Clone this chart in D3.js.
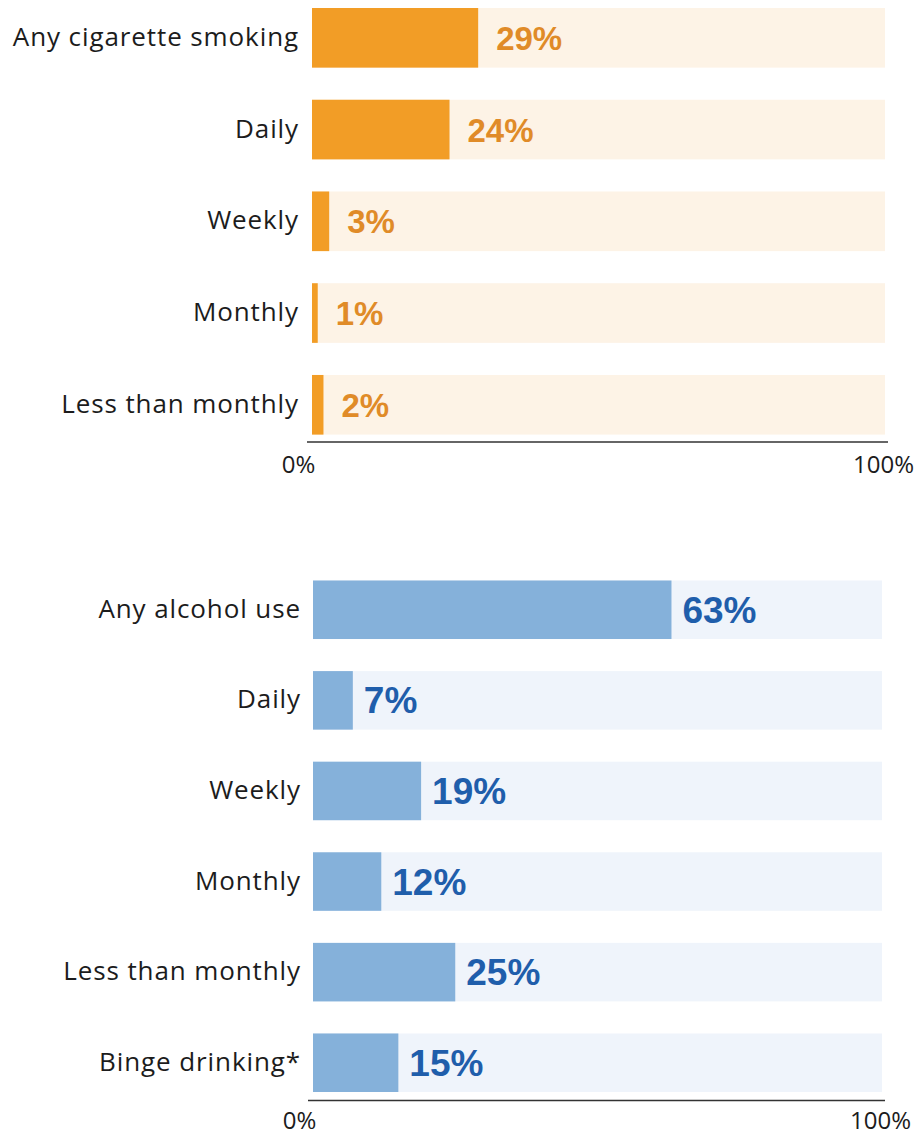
<!DOCTYPE html>
<html>
<head>
<meta charset="utf-8">
<script src="https://cdn.jsdelivr.net/npm/d3@7"></script>
<style>
  html, body { margin: 0; padding: 0; background: #ffffff; }
  svg { display: block; }
  .cat { font-family: "Open Sans", Lato, sans-serif; fill: #1c1c1c; letter-spacing: 0.9px; }
  .val { font-family: "Liberation Sans", Arial, sans-serif; font-weight: bold; }
  .tick text { font-family: "Open Sans", Lato, sans-serif; fill: #1c1c1c; }
</style>
</head>
<body>
<svg id="chart" width="921" height="1135"></svg>
<script>
// Smoking frequency
const smokingCategories = ["Any cigarette smoking", "Daily", "Weekly", "Monthly", "Less than monthly"];
const smokingValues = [29, 24, 3, 1, 2];

// Alcohol use frequency
const alcoholCategories = ["Any alcohol use", "Daily", "Weekly", "Monthly", "Less than monthly", "Binge drinking*"];
const alcoholValues = [63, 7, 19, 12, 25, 15];

// Axis tick labels
const tickValues = [0, 100];
const tickLabels = ["0%", "100%"];

const svg = d3.select("#chart");

function panel(opts) {
  const g = svg.append("g");
  const x = d3.scaleLinear().domain([0, 100]).range([opts.x0, opts.x1]);
  const y = d3.scaleBand()
    .domain(opts.categories)
    .range([opts.y0, opts.y1])
    .paddingInner(opts.pad)
    .paddingOuter(0);

  const rows = opts.categories.map((c, i) => ({ cat: c, value: opts.values[i] }));

  // track (full 100% background)
  g.selectAll("rect.track").data(rows).join("rect")
    .attr("class", "track")
    .attr("x", x(0))
    .attr("y", d => y(d.cat))
    .attr("width", x(100) - x(0))
    .attr("height", y.bandwidth())
    .attr("fill", opts.trackColor);

  // value bars
  g.selectAll("rect.bar").data(rows).join("rect")
    .attr("class", "bar")
    .attr("x", x(0))
    .attr("y", d => y(d.cat))
    .attr("width", d => x(d.value) - x(0))
    .attr("height", y.bandwidth())
    .attr("fill", opts.barColor);

  // value labels
  g.selectAll("text.val").data(rows).join("text")
    .attr("class", "val")
    .attr("x", d => x(d.value) + opts.valOffset)
    .attr("y", d => y(d.cat) + y.bandwidth() / 2 + opts.valDy)
    .attr("font-size", opts.valSize)
    .attr("fill", opts.valColor)
    .text(d => d.value + "%");

  // category labels
  g.selectAll("text.cat").data(rows).join("text")
    .attr("class", "cat")
    .attr("x", opts.labelX)
    .attr("y", d => y(d.cat) + y.bandwidth() / 2 + opts.catDy)
    .attr("text-anchor", "end")
    .attr("font-size", opts.catSize)
    .text(d => d.cat);

  // baseline axis
  const axis = d3.axisBottom(x)
    .tickValues(tickValues)
    .tickSize(0)
    .tickPadding(0)
    .tickFormat((d, i) => tickLabels[i]);

  const ax = g.append("g")
    .attr("transform", `translate(0,${opts.axisY})`)
    .call(axis);
  ax.select(".domain").remove();
  ax.append("line")
    .attr("x1", opts.lineX0).attr("x2", opts.lineX1)
    .attr("y1", 0).attr("y2", 0)
    .attr("stroke", "#333").attr("stroke-width", 1.6);
  ax.selectAll(".tick text")
    .attr("font-size", 24)
    .attr("y", opts.tickDy)
    .attr("dy", 0)
    .attr("dx", (d, i) => i === 0 ? -14 : -2);
}

panel({
  categories: smokingCategories,
  values: smokingValues,
  x0: 312, x1: 885,
  y0: 8, y1: 434.6, pad: 0.35,
  trackColor: "#fdf3e6",
  barColor: "#f29d26",
  valColor: "#e08b28",
  valSize: 33, valOffset: 18, valDy: 12,
  labelX: 299, catSize: 26, catDy: 8,
  axisY: 442, lineX0: 307, lineX1: 888, tickDy: 31
});

panel({
  categories: alcoholCategories,
  values: alcoholValues,
  x0: 313, x1: 882,
  y0: 580.5, y1: 1092, pad: 0.354,
  trackColor: "#eff4fb",
  barColor: "#85b1da",
  valColor: "#1f5eab",
  valSize: 37, valOffset: 11, valDy: 13,
  labelX: 301, catSize: 26, catDy: 8,
  axisY: 1100.5, lineX0: 308, lineX1: 885, tickDy: 28
});
</script>
</body>
</html>
